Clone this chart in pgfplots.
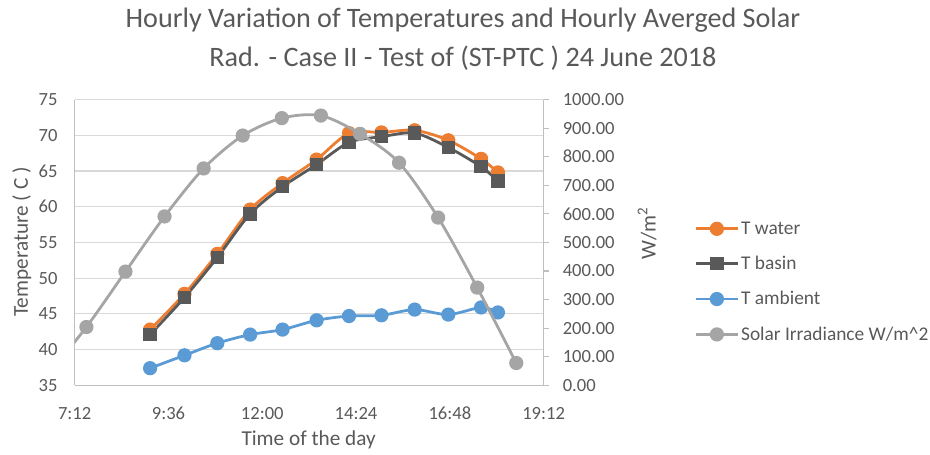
\documentclass[border=0pt]{standalone}
\usepackage{fontspec}
\setmainfont{Carlito}
\usepackage{pgfplots}
\pgfplotsset{compat=1.18}
\definecolor{cwater}{HTML}{ED7D31}
\definecolor{cbasin}{HTML}{595959}
\definecolor{camb}{HTML}{5B9BD5}
\definecolor{csolar}{HTML}{A5A5A5}
\definecolor{ctext}{HTML}{595959}
\definecolor{cgrid}{HTML}{D9D9D9}
\definecolor{caxis}{HTML}{BFBFBF}
\pgfplotsset{
  waterstyle/.style={cwater, line width=2.1pt, smooth, mark=*, mark size=4.3pt, mark options={solid, fill=cwater}},
  basinstyle/.style={cbasin, line width=2.1pt, smooth, mark=square*, mark size=4pt, mark options={solid, fill=cbasin}},
  ambstyle/.style={camb, line width=2.1pt, smooth, mark=*, mark size=4.3pt, mark options={solid, fill=camb}},
  solarstyle/.style={csolar, line width=2.1pt, smooth, mark=*, mark size=4.3pt, mark options={solid, fill=csolar}},
}
\begin{document}
\begin{tikzpicture}
\path (0,0) rectangle (697.5pt,342pt);
\begin{axis}[
  scale only axis, width=353.25pt, height=215.25pt,
  at={(56.25pt,51.75pt)}, anchor=south west,
  xmin=7.2, xmax=19.2, ymin=35, ymax=75,
  xtick={7.2,9.6,12,14.4,16.8,19.2},
  xticklabels={7:12,9:36,12:00,14:24,16:48,19:12},
  ytick={35,40,...,75},
  ymajorgrids, major grid style={cgrid, line width=0.9pt},
  axis x line*=bottom, axis y line*=left,
  axis line style={caxis, line width=0.9pt, -},
  major tick length=0pt,
  tick label style={font=\fontsize{14}{16}\selectfont, text=ctext, inner sep=0pt},
  /pgf/number format/assume math mode=true,
  xticklabel style={anchor=base, yshift=-25.5pt},
  yticklabel style={anchor=east, xshift=-12.75pt},
]
\addplot[waterstyle] coordinates {
(9.13,42.8) (10.01,47.8) (10.85,53.4) (11.69,59.6) (12.52,63.3) (13.39,66.6)
(14.22,70.3) (15.05,70.4) (15.90,70.7) (16.76,69.3) (17.60,66.7) (18.03,64.8)};
\addplot[basinstyle] coordinates {
(9.13,42.1) (10.01,47.3) (10.85,52.9) (11.69,59.0) (12.52,62.8) (13.39,65.9)
(14.22,69.0) (15.05,69.8) (15.90,70.3) (16.76,68.3) (17.60,65.6) (18.03,63.6)};
\addplot[ambstyle] coordinates {
(9.13,37.4) (10.01,39.2) (10.85,40.9) (11.69,42.1) (12.52,42.8) (13.39,44.1)
(14.22,44.7) (15.05,44.8) (15.90,45.6) (16.76,44.9) (17.60,45.9) (18.03,45.2)};
\end{axis}
\begin{axis}[
  scale only axis, width=353.25pt, height=215.25pt,
  at={(56.25pt,51.75pt)}, anchor=south west,
  xmin=7.2, xmax=19.2, ymin=0, ymax=1000,
  axis x line=none, axis y line*=right,
  axis line style={caxis, line width=0.9pt, -},
  ytick={0,100,...,1000},
  tick align=outside, major tick length=3.75pt,
  major tick style={caxis, line width=0.9pt},
  tick label style={font=\fontsize{14}{16}\selectfont, text=ctext, inner sep=0pt},
  /pgf/number format/assume math mode=true,
  yticklabel style={anchor=west, xshift=10.5pt, /pgf/number format/.cd, fixed, fixed zerofill, precision=2, 1000 sep={}},
  scaled y ticks=false,
  legend style={at={(1.3206,0.362)}, anchor=west, draw=none, fill=none,
    font=\fontsize{14.6}{16}\selectfont, text=ctext, row sep=12.6pt, inner sep=0pt,
    nodes={inner sep=1.2pt}},
  legend cell align=left,
  legend image code/.code={\draw[mark repeat=2,mark phase=2,#1] plot coordinates {(0pt,0pt) (16pt,0pt) (32pt,0pt)};},
]
\addlegendimage{waterstyle}
\addlegendentry{T water}
\addlegendimage{basinstyle}
\addlegendentry{T basin}
\addlegendimage{ambstyle}
\addlegendentry{T ambient}
\addplot[solarstyle] coordinates {
(6.5,35) (7.5,204) (8.5,398) (9.5,591) (10.5,759) (11.5,874) (12.5,935)
(13.5,944) (14.5,880) (15.5,779) (16.5,587) (17.5,342) (18.5,78)};
\addlegendentry{Solar Irradiance W/m\^{}2}
\end{axis}
\node[anchor=base, text=ctext, font=\fontsize{21.2}{24}\selectfont] at (348.75pt,321pt) {Hourly Variation of Temperatures and Hourly Averged Solar};
\node[anchor=base, text=ctext, font=\fontsize{21.2}{24}\selectfont] at (348.75pt,291.75pt) {Rad. - Case II - Test of (ST-PTC ) 24 June 2018};
\node[anchor=base, text=ctext, font=\fontsize{16}{18}\selectfont] at (232.5pt,6.75pt) {Time of the day};
\node[rotate=90, text=ctext, font=\fontsize{16}{18}\selectfont] at (16.5pt,159.75pt) {Temperature ( C )};
\node[rotate=90, text=ctext, font=\fontsize{16}{18}\selectfont] at (487.5pt,166.5pt) {W/m\textsuperscript{2}};
\end{tikzpicture}
\end{document}
